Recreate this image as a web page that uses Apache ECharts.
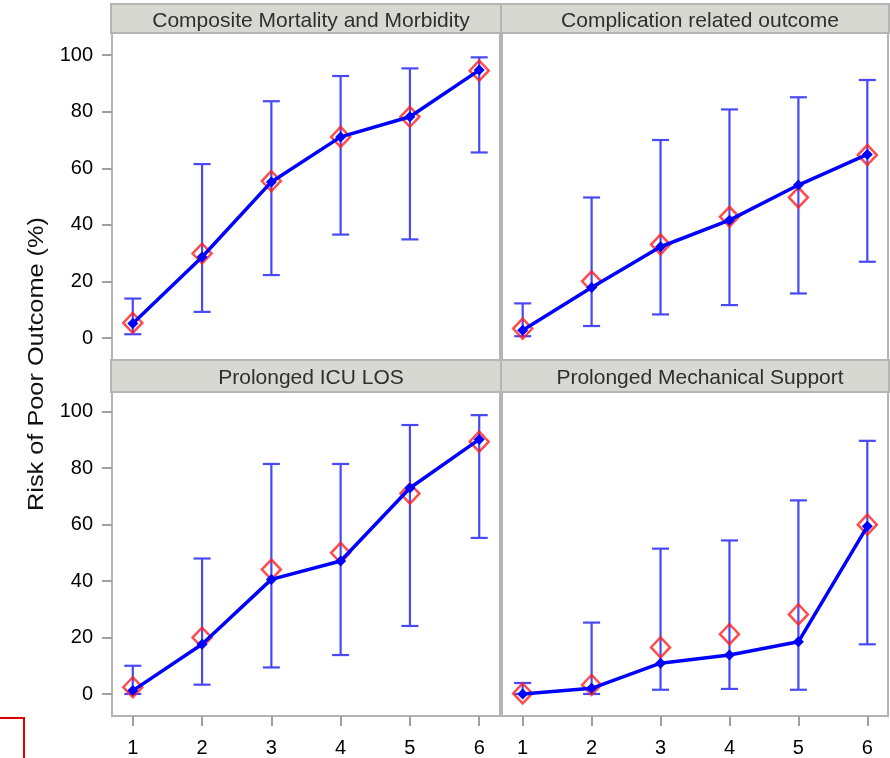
<!DOCTYPE html>
<html>
<head>
<meta charset="utf-8">
<script src="https://cdn.jsdelivr.net/npm/echarts@6/dist/echarts.min.js"></script>
<style>html,body{margin:0;padding:0;background:#fff}#c{width:890px;height:758px}</style>
</head>
<body>
<div id="c"></div>
<script>
var xValues = [1, 2, 3, 4, 5, 6];
var yTicks = [0, 20, 40, 60, 80, 100];
var panelTitles = ['Composite Mortality and Morbidity', 'Complication related outcome', 'Prolonged ICU LOS', 'Prolonged Mechanical Support'];
var yAxisTitle = 'Risk of Poor Outcome (%)';

var compLine = [5.2, 28.7, 55.2, 71.1, 78.2, 94.7];
var compObs  = [5.4, 29.9, 55.5, 71.1, 78.2, 94.5];
var compLow  = [1.4, 9.3, 22.3, 36.6, 34.9, 65.6];
var compHigh = [14.0, 61.5, 83.7, 92.6, 95.3, 99.2];

var cmplLine = [2.8, 17.9, 32.3, 41.7, 54.1, 64.9];
var cmplObs  = [3.4, 20.1, 33.1, 42.9, 49.7, 64.7];
var cmplLow  = [0.7, 4.3, 8.4, 11.7, 15.8, 27.0];
var cmplHigh = [12.3, 49.7, 70.0, 80.8, 85.1, 91.2];

var icuLine = [1.2, 17.6, 40.6, 47.1, 73.0, 90.2];
var icuObs  = [2.4, 20.0, 44.1, 50.0, 71.0, 89.4];
var icuLow  = [0.0, 3.3, 9.4, 13.8, 24.1, 55.3];
var icuHigh = [10.0, 48.0, 81.5, 81.5, 95.3, 98.8];

var mechLine = [0.0, 2.0, 10.9, 13.8, 18.5, 59.4];
var mechObs  = [0.2, 3.2, 16.5, 21.2, 28.2, 60.0];
var mechLow  = [0.0, 0.0, 1.5, 1.8, 1.5, 17.6];
var mechHigh = [3.9, 25.3, 51.5, 54.4, 68.6, 89.7];

var panels = [
  {line: compLine, obs: compObs, low: compLow, high: compHigh},
  {line: cmplLine, obs: cmplObs, low: cmplLow, high: cmplHigh},
  {line: icuLine, obs: icuObs, low: icuLow, high: icuHigh},
  {line: mechLine, obs: mechObs, low: mechLow, high: mechHigh}
];

var FONT = '"Liberation Sans", Arial, Helvetica, sans-serif';
var grids = [
  {left: 112, top: 33, width: 388, height: 327},
  {left: 502, top: 33, width: 386, height: 327},
  {left: 112, top: 392, width: 388, height: 325},
  {left: 502, top: 392, width: 386, height: 325}
];
var headers = [
  {x: 111, y: 4, w: 390, h: 29},
  {x: 501, y: 4, w: 388, h: 29},
  {x: 111, y: 360, w: 390, h: 32},
  {x: 501, y: 360, w: 388, h: 32}
];

var option = {
  backgroundColor: '#ffffff',
  animation: false,
  grid: grids.map(function (g) {
    return {left: g.left, top: g.top, width: g.width, height: g.height, show: true,
            borderColor: '#b4b4b4', borderWidth: 2, backgroundColor: '#ffffff', containLabel: false};
  }),
  title: panelTitles.map(function (t, i) {
    var h = headers[i];
    return {text: t, left: h.x + h.w / 2, top: h.y + h.h / 2 - 13, textAlign: 'center',
            textStyle: {fontFamily: FONT, fontSize: 21, fontWeight: 'normal', color: '#2e2e2e'}};
  }),
  xAxis: grids.map(function (g, i) {
    var bottom = i >= 2;
    return {type: 'value', gridIndex: i, min: 0.7, max: 6.3, position: 'bottom',
      axisLine: {show: false, onZero: false},
      axisTick: {show: bottom, length: 10, customValues: xValues, lineStyle: {color: '#a0a0a0', width: 2}},
      axisLabel: {show: bottom, margin: 22, customValues: xValues, fontFamily: FONT, fontSize: 20, color: '#000000'},
      splitLine: {show: false}};
  }),
  yAxis: grids.map(function (g, i) {
    var left = (i % 2) === 0;
    var top = i < 2;
    return {type: 'value', gridIndex: i, min: top ? -7.7 : -7.8, max: top ? 107.8 : 107, position: 'left',
      axisLine: {show: false, onZero: false},
      axisTick: {show: left, length: 10, customValues: yTicks, lineStyle: {color: '#a0a0a0', width: 2}},
      axisLabel: {show: left, margin: 19, customValues: yTicks, fontFamily: FONT, fontSize: 20, color: '#000000'},
      splitLine: {show: false}};
  }),
  graphic: [],
  series: []
};

headers.forEach(function (h) {
  option.graphic.push({type: 'rect', shape: {x: h.x, y: h.y, width: h.w, height: h.h}, z: -1,
    style: {fill: '#d8d8d3', stroke: '#b4b4b4', lineWidth: 2}});
});
option.graphic.push({type: 'text', x: 37, y: 364, rotation: Math.PI / 2, scaleX: 1.15,
  style: {text: yAxisTitle, fontFamily: FONT, fontSize: 22, fill: '#111111', textAlign: 'center', textVerticalAlign: 'middle'}});
option.graphic.push({type: 'rect', shape: {x: -4, y: 718, width: 28, height: 46},
  style: {fill: 'none', stroke: '#e00000', lineWidth: 2}});

panels.forEach(function (p, i) {
  var errData = xValues.map(function (x, k) { return [x, p.low[k], p.high[k]]; });
  option.series.push({
    type: 'custom', xAxisIndex: i, yAxisIndex: i, z: 1, data: errData,
    encode: {x: 0, y: [1, 2]},
    renderItem: function (params, api) {
      var x = api.value(0);
      var lo = api.coord([x, api.value(1)]);
      var hi = api.coord([x, api.value(2)]);
      var cw = 8.5;
      var st = {stroke: '#4848f6', lineWidth: 2.2};
      return {type: 'group', children: [
        {type: 'line', shape: {x1: lo[0], y1: lo[1], x2: hi[0], y2: hi[1]}, style: st},
        {type: 'line', shape: {x1: lo[0] - cw, y1: lo[1], x2: lo[0] + cw, y2: lo[1]}, style: st},
        {type: 'line', shape: {x1: hi[0] - cw, y1: hi[1], x2: hi[0] + cw, y2: hi[1]}, style: st}
      ]};
    }
  });
  option.series.push({
    type: 'scatter', xAxisIndex: i, yAxisIndex: i, z: 2,
    data: xValues.map(function (x, k) { return [x, p.obs[k]]; }),
    symbol: 'diamond', symbolSize: [19, 20],
    itemStyle: {color: 'rgba(0,0,0,0)', borderColor: '#ff1f1f', borderWidth: 2.5}
  });
  option.series.push({
    type: 'line', xAxisIndex: i, yAxisIndex: i, z: 3,
    data: xValues.map(function (x, k) { return [x, p.line[k]]; }),
    symbol: 'diamond', symbolSize: 11, showSymbol: true,
    lineStyle: {color: '#0000ff', width: 3.5},
    itemStyle: {color: '#0000ff'}
  });
});

var chart = echarts.init(document.getElementById('c'), null, {renderer: 'canvas'});
chart.setOption(option);
</script>
</body>
</html>
